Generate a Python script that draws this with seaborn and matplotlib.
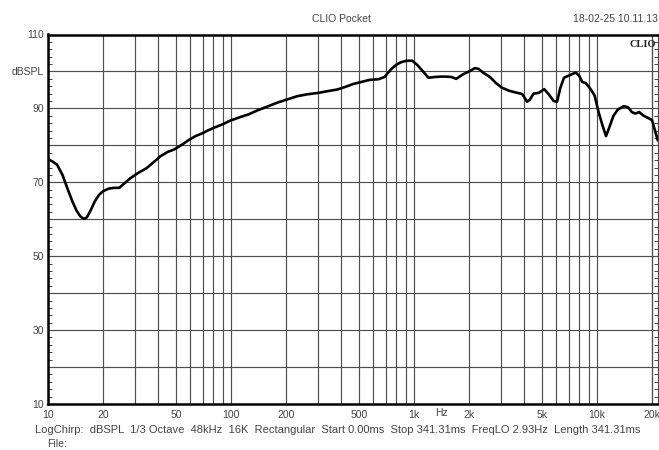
import numpy as np
import pandas as pd
import matplotlib
matplotlib.use("Agg")
import matplotlib.pyplot as plt
import matplotlib.transforms as mtransforms
from matplotlib.ticker import FixedLocator, NullFormatter
import seaborn as sns

# ---------- DATA ----------
FREQ_HZ = [10, 10.6, 11.2, 12.0, 12.8, 13.6, 14.3, 15.0, 15.7, 16.3, 17.1, 18.0, 19.0,
           20.0, 21.5, 23.0, 24.5, 26.0, 28.0, 31.0, 34.5, 37.5, 41.0, 45.0, 49.0,
           54.0, 59.0, 64.0, 70.0, 76.0, 82.0, 90.0, 98.0, 110, 125, 140, 160, 180,
           205, 230, 260, 300, 340, 380, 420, 465, 520, 570, 640, 690, 750, 800, 850,
           910, 980, 1040, 1120, 1200, 1300, 1400, 1500, 1600, 1700, 1850, 2000, 2150,
           2250, 2400, 2600, 2800, 3000, 3300, 3600, 3900, 4150, 4300, 4500, 4800,
           5150, 5450, 5800, 6050, 6300, 6600, 7100, 7650, 8000, 8300, 8700, 9200,
           9700, 10200, 10700, 11200, 11700, 12300, 13000, 14000, 14800, 15500, 16200,
           17000, 18000, 19200, 20000, 20600, 21500]
SPL_DB = [76.3, 75.6, 74.8, 72.0, 68.2, 64.8, 62.4, 60.8, 60.1, 60.5, 62.4, 64.8, 66.6,
          67.6, 68.3, 68.5, 68.5, 69.6, 71.0, 72.5, 73.8, 75.3, 77.0, 78.2, 78.9,
          80.2, 81.5, 82.5, 83.3, 84.2, 84.9, 85.7, 86.6, 87.5, 88.4, 89.5, 90.6, 91.6,
          92.5, 93.3, 93.8, 94.2, 94.7, 95.1, 95.8, 96.6, 97.2, 97.7, 97.9, 98.5, 100.6,
          101.8, 102.5, 102.9, 102.9, 101.8, 100.0, 98.3, 98.5, 98.6, 98.6, 98.5, 98.0,
          99.2, 100.0, 100.9, 100.7, 99.6, 98.5, 96.9, 95.7, 94.8, 94.3, 93.9, 91.8,
          92.4, 94.0, 94.2, 95.2, 93.8, 92.0, 91.8, 95.5, 98.3, 99.0, 99.7, 98.8, 97.2,
          96.8, 95.3, 93.5, 89.0, 85.5, 82.5, 85.0, 88.0, 89.7, 90.6, 90.3, 89.0, 88.6,
          89.0, 88.0, 87.3, 86.8, 84.5, 81.3]

X_TICKS = [10, 20, 50, 100, 200, 500, 1000, 2000, 5000, 10000, 20000]
X_LABELS = ["10", "20", "50", "100", "200", "500", "1k", "2k", "5k", "10k", "20k"]
Y_TICKS = [10, 30, 50, 70, 90, 100, 110]
Y_LABELS = ["10", "30", "50", "70", "90", "dBSPL", "110"]

TITLE = "CLIO Pocket"
STAMP = "18-02-25 10.11.13"
FOOTER = ("LogChirp:  dBSPL  1/3 Octave  48kHz  16K  Rectangular  Start 0.00ms  "
          "Stop 341.31ms  FreqLO 2.93Hz  Length 341.31ms")

df = pd.DataFrame({"freq": FREQ_HZ, "spl": SPL_DB})

sns.set_style("white")
plt.rcParams["font.family"] = ["Liberation Sans", "DejaVu Sans"]

W, H = 659, 450
fig = plt.figure(figsize=(W / 100, H / 100), dpi=100)
ax = fig.add_axes([48 / W, 1 - 404 / H, 610 / W, (404 - 34.5) / H])

sns.lineplot(data=df, x="freq", y="spl", ax=ax, color="black", linewidth=1.9,
             sort=False, zorder=5)

ax.set_xscale("log")
ax.set_xlim(10, 10 ** (1 + 610 / 183))
ax.set_ylim(10, 110)

# grid: every 1..9 per decade on x, every 10 dB on y
grid_x = [m * 10 ** d for d in range(1, 5) for m in range(1, 10)] + [20000]
for gx in grid_x:
    ax.axvline(gx, color="#4e4e4e", linewidth=0.85, zorder=1)
for gy in range(20, 110, 10):
    ax.axhline(gy, color="#4e4e4e", linewidth=0.85, zorder=1)

ax.xaxis.set_major_locator(FixedLocator(X_TICKS))
ax.set_xticklabels(X_LABELS)
ax.xaxis.set_minor_formatter(NullFormatter())
ax.xaxis.set_minor_locator(FixedLocator([]))
ax.tick_params(axis="x", which="major", length=0, pad=4, labelsize=7.5, colors="#444444")

ax.yaxis.set_major_locator(FixedLocator(Y_TICKS))
ax.set_yticklabels(Y_LABELS)
ax.yaxis.set_minor_locator(FixedLocator(np.arange(12, 110, 2)))
ax.tick_params(axis="y", which="major", length=0, pad=3, labelsize=7.5, colors="#444444")
ax.tick_params(axis="y", which="minor", direction="in", length=3, width=0.7,
               color="#444444", left=True, right=True)

ax.set_xlabel("")
ax.set_ylabel("")

for side in ["left", "bottom", "top"]:
    ax.spines[side].set_linewidth(1.8)
    ax.spines[side].set_color("black")
ax.spines["right"].set_linewidth(0.8)
ax.spines["right"].set_color("#4e4e4e")

# "Hz" label sits between 1k and 2k on the axis
trans = mtransforms.blended_transform_factory(ax.transData, ax.transAxes)
ax.text(1420, -0.012, "Hz", transform=trans, ha="center", va="top",
        fontsize=7.5, color="#444444")

ax.text(0.997, 0.985, "CLIO", transform=ax.transAxes, ha="right", va="top",
        fontsize=7.5, fontweight="bold", family="Liberation Serif", color="#222222")

fig.text(341 / W, 1 - 19 / H, TITLE, ha="center", va="center", fontsize=7.5, color="#444444")
fig.text(573 / W, 1 - 19 / H, STAMP, ha="left", va="center", fontsize=7.5, color="#444444")
fig.text(35 / W, 1 - 430 / H, FOOTER, ha="left", va="center", fontsize=8, color="#444444")
fig.text(47 / W, 1 - 444 / H, "File:", ha="left", va="center", fontsize=7.5, color="#444444")

fig.savefig("out.png", dpi=100)
